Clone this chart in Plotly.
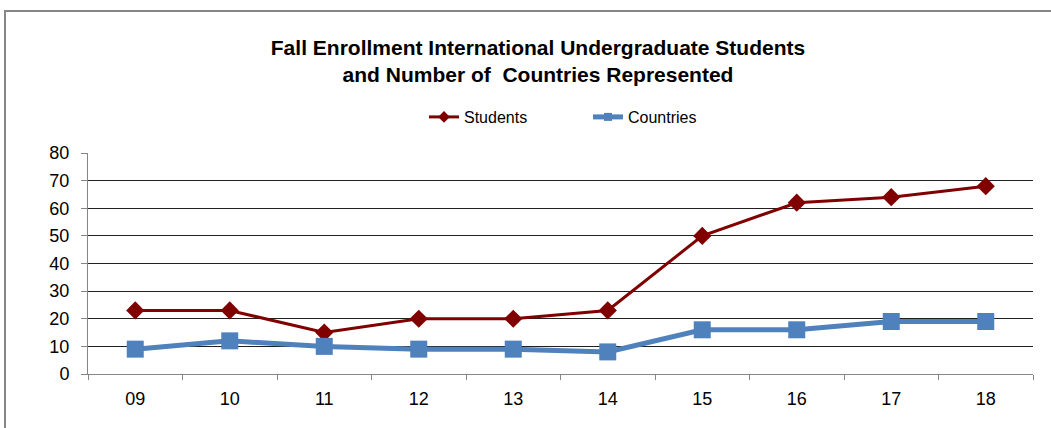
import plotly.graph_objects as go

years = ["09", "10", "11", "12", "13", "14", "15", "16", "17", "18"]
students = [23, 23, 15, 20, 20, 23, 50, 62, 64, 68]
countries = [9, 12, 10, 9, 9, 8, 16, 16, 19, 19]
y_ticks = [0, 10, 20, 30, 40, 50, 60, 70, 80]

W, H = 1051, 428
L, R, T, B = 88, 18, 153, 54
pw, ph = W - L - R, H - T - B

RED, BLUE = "#800000", "#4F81BD"

fig = go.Figure()
fig.add_trace(go.Scatter(x=years, y=students, name="Students", mode="lines+markers",
                         line=dict(color=RED, width=3), showlegend=False,
                         marker=dict(symbol="diamond", size=14, color=RED)))
fig.add_trace(go.Scatter(x=years, y=countries, name="Countries", mode="lines+markers",
                         line=dict(color=BLUE, width=5), showlegend=False,
                         marker=dict(symbol="square", size=17, color=BLUE)))
# legend entries with the smaller legend symbols seen in the original
fig.add_trace(go.Scatter(x=[None], y=[None], name="Students", mode="lines+markers",
                         line=dict(color=RED, width=3),
                         marker=dict(symbol="diamond", size=9, color=RED)))
fig.add_trace(go.Scatter(x=[None], y=[None], name="Countries", mode="lines+markers",
                         line=dict(color=BLUE, width=5),
                         marker=dict(symbol="square", size=8, color=BLUE)))

fig.update_layout(
    width=W, height=H,
    margin=dict(l=L, r=R, t=T, b=B),
    paper_bgcolor="white", plot_bgcolor="white",
    font=dict(family="Liberation Sans, Arial, sans-serif", color="black"),
    title=dict(text="<b>Fall Enrollment International Undergraduate Students<br>and Number of  Countries Represented</b>",
               x=538 / W, xanchor="center", y=1 - 55 / H, yanchor="middle",
               font=dict(size=21, color="black")),
    legend=dict(orientation="h", x=(424 - L) / pw, xanchor="left",
                y=(H - B - 117) / ph, yanchor="middle",
                font=dict(size=16), bgcolor="rgba(0,0,0,0)",
                entrywidth=119, entrywidthmode="pixels", tracegroupgap=0),
    showlegend=True,
)
fig.update_xaxes(type="category", tickson="boundaries", ticks="outside", ticklen=5,
                 tickcolor="#868686", showline=True, linecolor="#868686", linewidth=1,
                 showgrid=False, tickfont=dict(size=18), range=[-0.5, 9.5],
                 ticklabelstandoff=8)
fig.update_yaxes(range=[0, 80], tickvals=y_ticks, ticks="outside", ticklen=6,
                 tickcolor="#868686", showline=True, linecolor="#868686", linewidth=1,
                 showgrid=True, gridcolor="#202020", gridwidth=1, zeroline=False,
                 tickfont=dict(size=18), ticklabelstandoff=8)

# outer chart border (extends beyond the view on right and bottom)
fig.add_shape(type="rect", xref="paper", yref="paper",
              x0=(5 - L) / pw, x1=(1060 - L) / pw,
              y0=(H - B - 440) / ph, y1=(H - B - 11) / ph,
              line=dict(color="#868686", width=2), fillcolor="rgba(0,0,0,0)", layer="below")

fig.write_html("out.html", config={"displayModeBar": False},
               post_script="document.body.style.margin='0';document.body.style.overflow='hidden';")
